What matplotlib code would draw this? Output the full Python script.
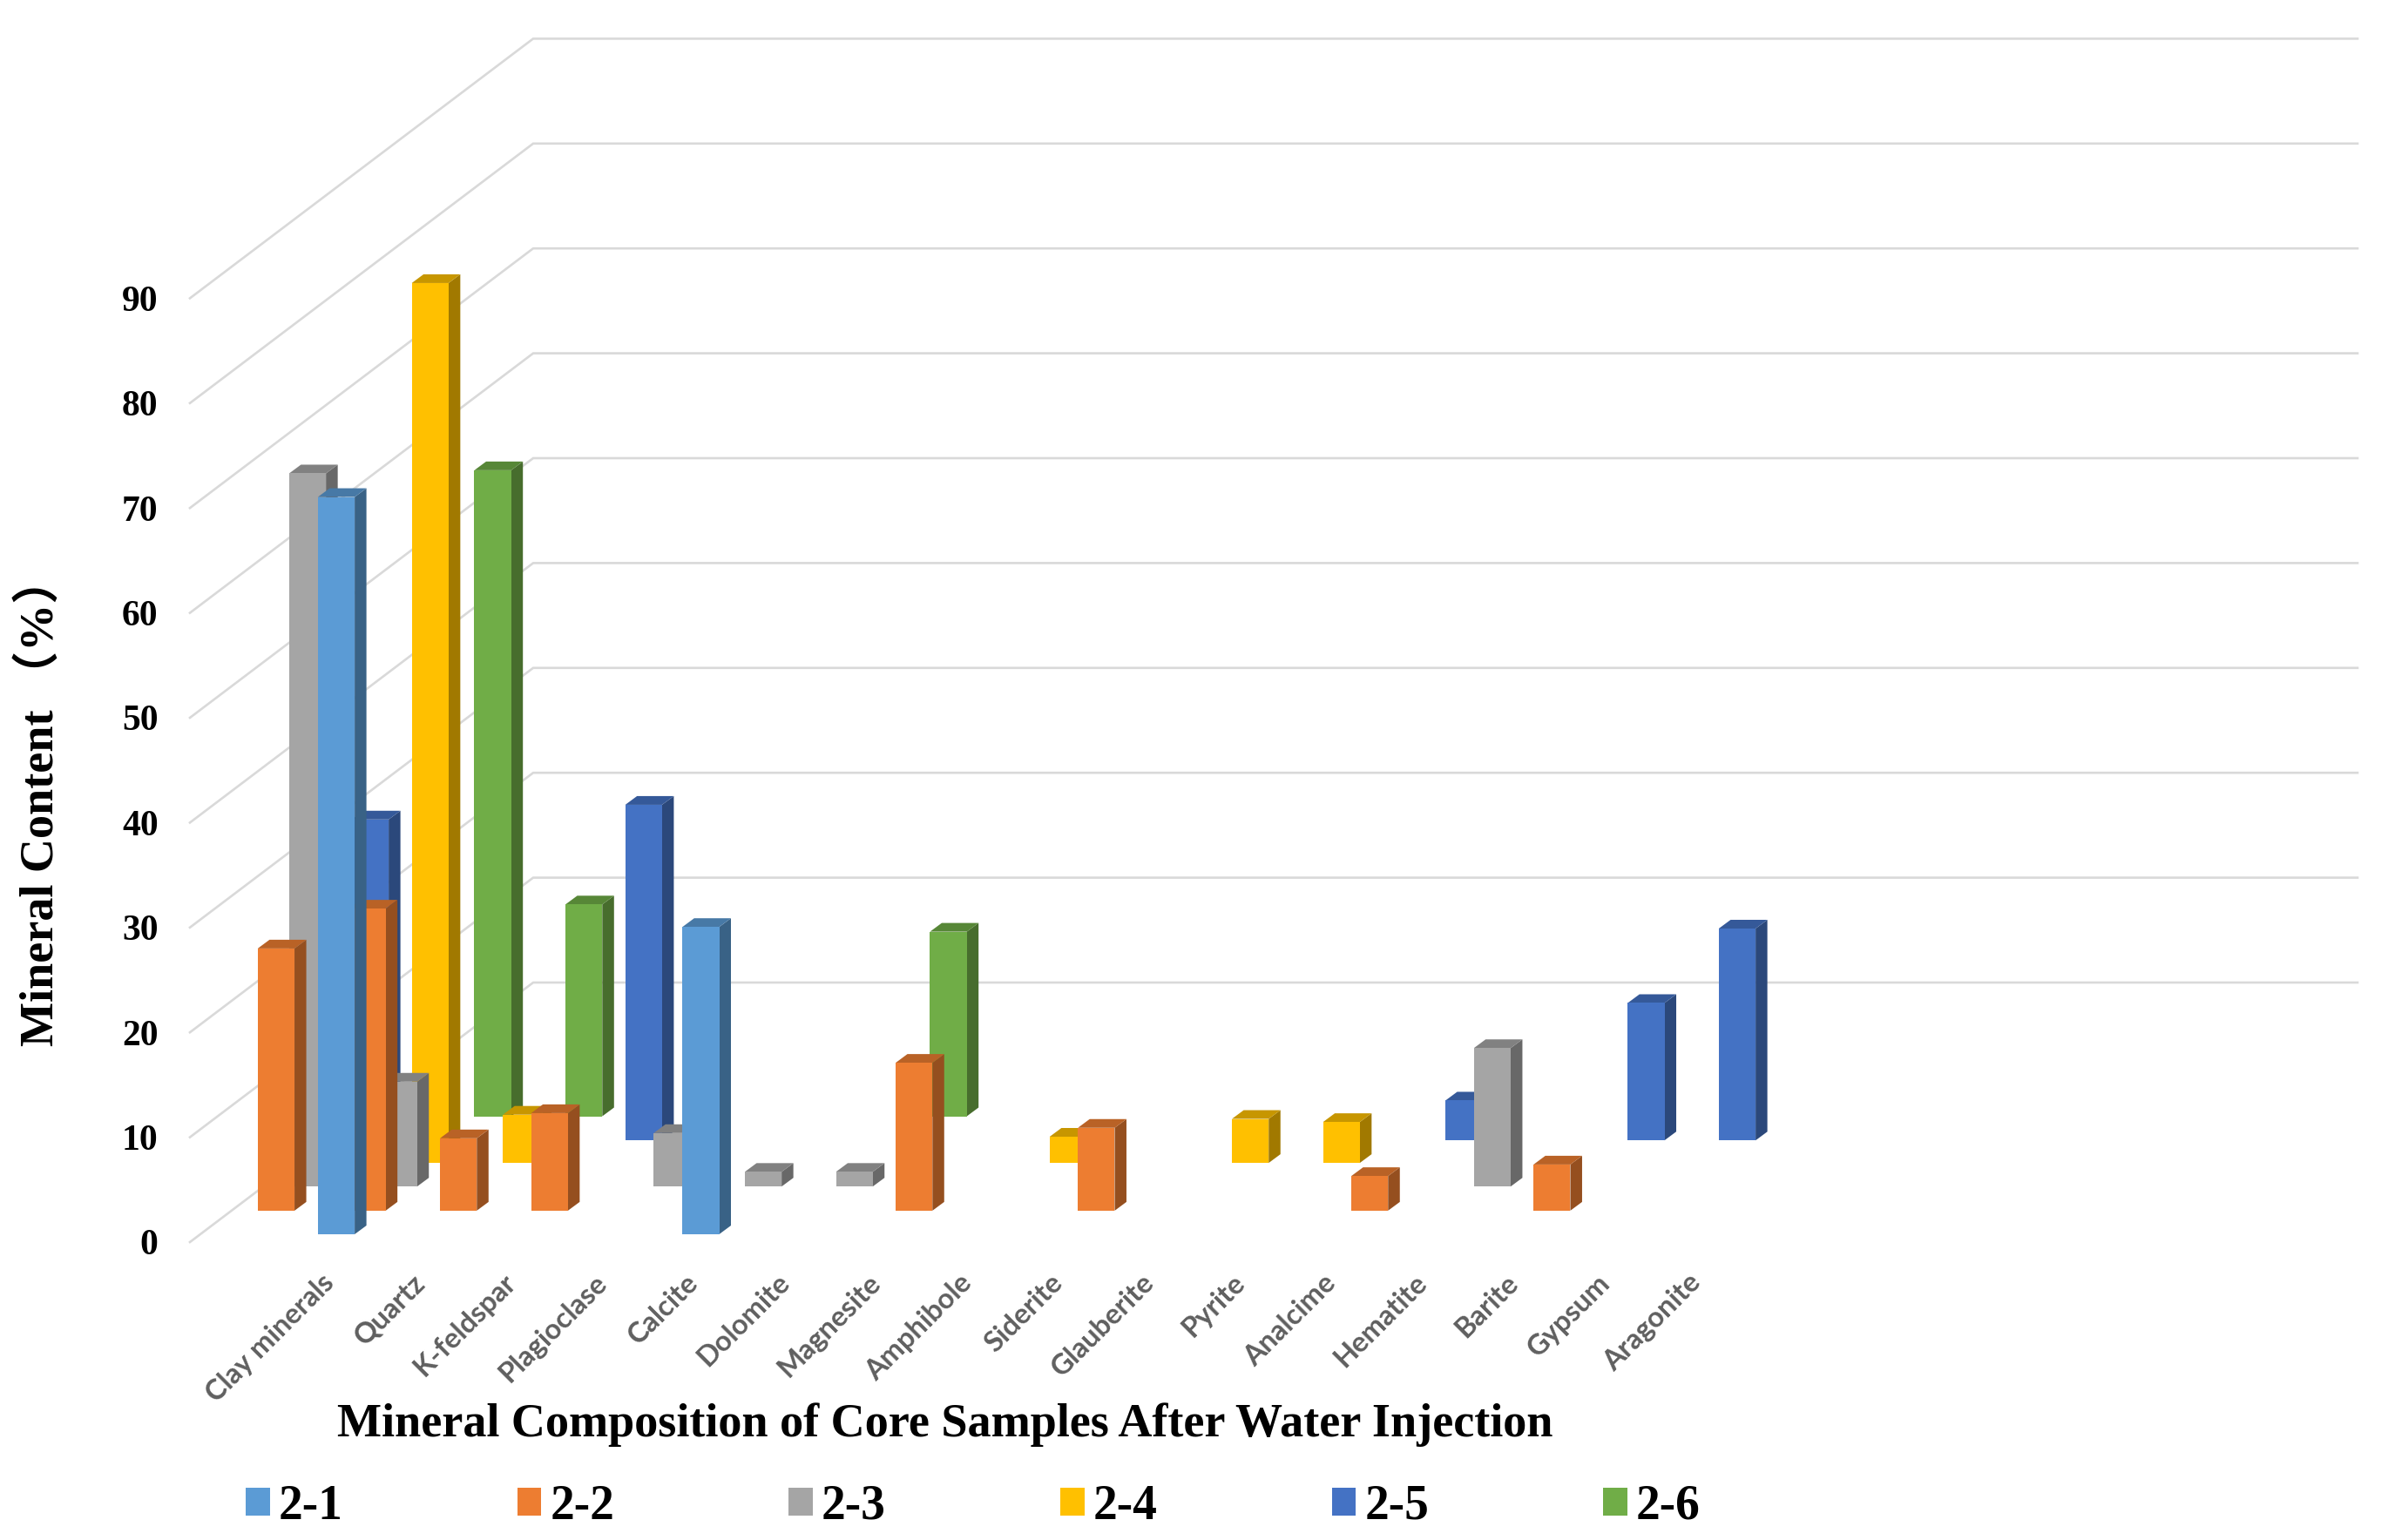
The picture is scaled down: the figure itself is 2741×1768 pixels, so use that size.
import numpy as np
import matplotlib
matplotlib.use("Agg")
import matplotlib.pyplot as plt
from matplotlib.patches import Patch
from matplotlib.transforms import ScaledTranslation

nan = float("nan")
minerals = ["Clay minerals", "Quartz", "K-feldspar", "Plagioclase", "Calcite", "Dolomite",
            "Magnesite", "Amphibole", "Siderite", "Glauberite", "Pyrite", "Analcime",
            "Hematite", "Barite", "Gypsum", "Aragonite"]
s21 = [70.3, nan, nan, nan, 29.3, nan, nan, nan, nan, nan, nan, nan, nan, nan, nan, nan]
s22 = [25.0, 28.8, 6.9, 9.3, nan, nan, nan, 14.1, nan, 7.9, nan, nan, 3.3, nan, 4.4, nan]
s23 = [68.0, 10.0, nan, nan, 5.1, 1.4, 1.4, nan, nan, nan, nan, nan, nan, 13.2, nan, nan]
s24 = [nan, 83.9, 4.6, nan, nan, nan, nan, nan, 2.5, nan, 4.2, 3.9, nan, nan, nan, nan]
s25 = [30.6, nan, nan, 32.0, nan, nan, nan, nan, nan, nan, nan, nan, 3.8, nan, 13.1, 20.2]
s26 = [nan, 61.6, 20.2, nan, nan, nan, 17.6, nan, nan, nan, nan, nan, nan, nan, nan, nan]
names = ["2-1", "2-2", "2-3", "2-4", "2-5", "2-6"]
series = [s21, s22, s23, s24, s25, s26]
colors = ["#5B9BD5", "#ED7D31", "#A5A5A5", "#FFC000", "#4472C4", "#70AD47"]
yticks = list(range(0, 100, 10))

W, H = 2741, 1768
PX_X, PX_Y = 104.6, 12.04        # pixels per category / per percent
X0_PX, Y0_PX = 386.0, 1426.0     # where category 0 / value 0 fall
L_PX, R_PX, T_PX, B_PX = 190, W, 0, 1452

serif = ["Liberation Serif", "Noto Sans CJK SC"]
fig = plt.figure(figsize=(W / 100, H / 100), dpi=100)
ax = fig.add_axes([L_PX / W, 1 - B_PX / H, (R_PX - L_PX) / W, (B_PX - T_PX) / H])
ax.set_xlim((L_PX - X0_PX) / PX_X, (R_PX - X0_PX) / PX_X)
ax.set_ylim((Y0_PX - B_PX) / PX_Y, (Y0_PX - T_PX) / PX_Y)
for sp in ax.spines.values():
    sp.set_visible(False)

# oblique projection of the series depth
offsets = [0.0, -0.66, -0.315, 0.03, 0.373, 0.717]
floors = [0.75, 3.0, 5.3, 7.55, 9.7, 12.0]
bar_w = 42.2 / PX_X
dx = 13.5 / PX_X
dy = 10.0 / PX_Y

# side wall and back wall gridlines
grid_x0 = (218 - X0_PX) / PX_X
grid_xc = (612 - X0_PX) / PX_X
grid_x1 = (2706 - X0_PX) / PX_X
grid_dy = 298 / PX_Y
for v in yticks:
    ax.plot([grid_x0, grid_xc, grid_x1], [v, v + grid_dy, v + grid_dy],
            color="#D9D9D9", lw=1.9, zorder=1, solid_joinstyle="miter")


def shade(col, f):
    return tuple(c * f for c in matplotlib.colors.to_rgb(col))


z = 2
for k in range(5, -1, -1):
    xs = np.arange(len(minerals)) + offsets[k]
    vals = np.array(series[k], dtype=float)
    keep = ~np.isnan(vals)
    ax.bar(xs[keep], vals[keep], width=bar_w, bottom=floors[k], color=colors[k],
           linewidth=0, zorder=z + 1)
    for x, v in zip(xs[keep], vals[keep]):
        r = x + bar_w / 2
        l = x - bar_w / 2
        b = floors[k]
        t = b + v
        ax.fill([r, r + dx, r + dx, r], [b, b + dy, t + dy, t],
                color=shade(colors[k], 0.63), lw=0, zorder=z)
        ax.fill([l, l + dx, r + dx, r], [t, t + dy, t + dy, t],
                color=shade(colors[k], 0.78), lw=0, zorder=z)
    z += 2

ax.set_yticks(yticks)
ax.set_yticklabels([str(v) for v in yticks], family=serif, fontweight="bold",
                   fontsize=30, color="black")
ax.set_xticks(np.arange(len(minerals)))
ax.set_xticklabels(minerals, rotation=45, ha="right", va="top", rotation_mode="anchor",
                   family="Lato", fontweight="bold", fontsize=23.5, color="#5F5F5F")
ax.tick_params(axis="both", length=0)
ax.tick_params(axis="y", pad=6)
ax.tick_params(axis="x", pad=4)
shift = ScaledTranslation(-18 / 100, 0, fig.dpi_scale_trans)
for lab in ax.get_xticklabels():
    lab.set_transform(lab.get_transform() + shift)

ax.set_ylabel("Mineral Content （%）", family=serif, fontweight="bold", fontsize=39,
              ha="center", va="center")
ax.yaxis.set_label_coords(48 / W, 1 - 920 / H, transform=fig.transFigure)
ax.set_xlabel("Mineral Composition of Core Samples After Water Injection", family=serif,
              fontweight="bold", fontsize=39, ha="center", va="center")
ax.xaxis.set_label_coords(1085 / W, 1 - 1636 / H, transform=fig.transFigure)

handles = [Patch(facecolor=c, edgecolor="none", label=n) for c, n in zip(colors, names)]
fig.legend(handles=handles, loc="lower left", bbox_to_anchor=(282 / W, 1 - 1756 / H),
           ncol=6, frameon=False, borderpad=0, borderaxespad=0,
           handlelength=0.5, handleheight=0.5, handletextpad=0.18, columnspacing=3.6,
           prop={"family": serif, "weight": "bold", "size": 40})

fig.savefig("out.png", dpi=100, facecolor="white")
